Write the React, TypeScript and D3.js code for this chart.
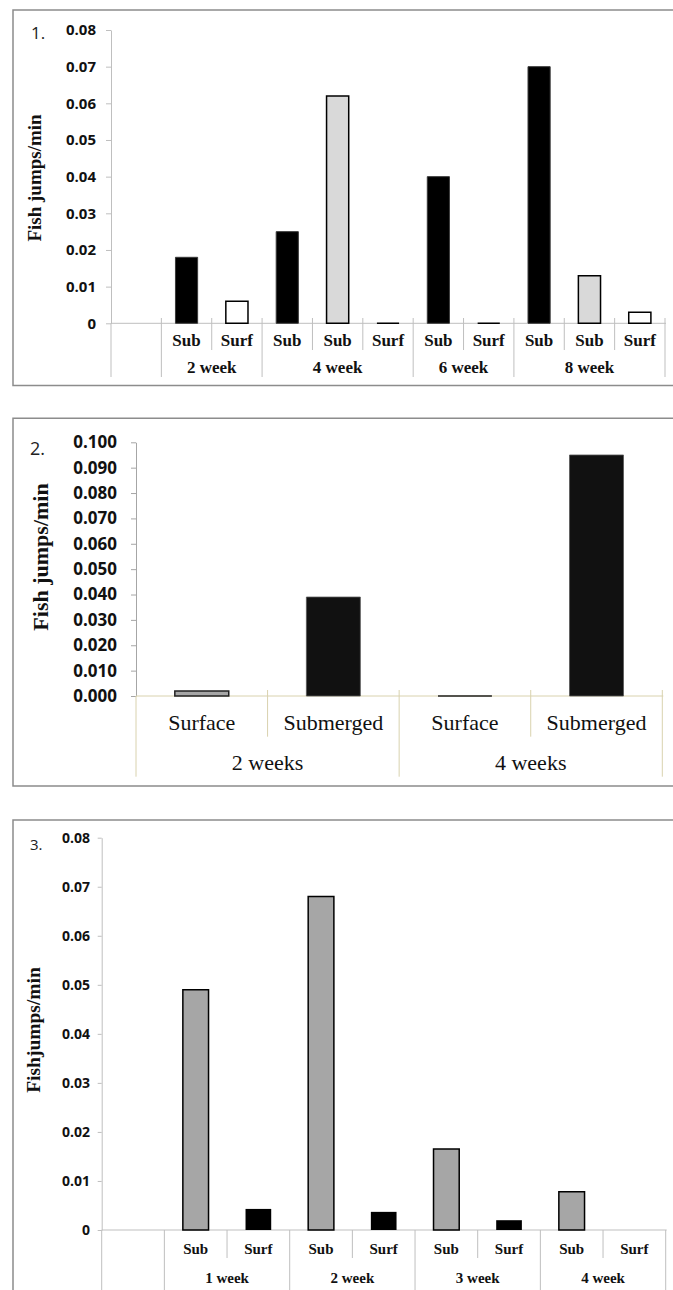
import React, { useRef, useEffect } from "react";
import * as d3 from "d3";

// ---- panel 1 data
const p1Labels = ["", "Sub", "Surf", "Sub", "Sub", "Surf", "Sub", "Surf", "Sub", "Sub", "Surf"];
const p1Weeks = ["", "2 week", "2 week", "4 week", "4 week", "4 week", "6 week", "6 week", "8 week", "8 week", "8 week"];
const p1Series = ["", "sub", "surf", "sub", "sub2", "surf", "sub", "surf", "sub", "sub2", "surf"];
const p1Values = [null, 0.018, 0.006, 0.025, 0.062, 0, 0.04, 0, 0.07, 0.013, 0.003];
const p1Ticks = [0, 0.01, 0.02, 0.03, 0.04, 0.05, 0.06, 0.07, 0.08];

// ---- panel 2 data
const p2Labels = ["Surface", "Submerged", "Surface", "Submerged"];
const p2Weeks = ["2 weeks", "2 weeks", "4 weeks", "4 weeks"];
const p2Series = ["surface", "submerged", "surface", "submerged"];
const p2Values = [0.002, 0.039, 0, 0.095];
const p2Ticks = [0, 0.01, 0.02, 0.03, 0.04, 0.05, 0.06, 0.07, 0.08, 0.09, 0.1];

// ---- panel 3 data
const p3Labels = ["", "Sub", "Surf", "Sub", "Surf", "Sub", "Surf", "Sub", "Surf"];
const p3Weeks = ["", "1 week", "1 week", "2 week", "2 week", "3 week", "3 week", "4 week", "4 week"];
const p3Series = ["", "sub", "surf", "sub", "surf", "sub", "surf", "sub", "surf"];
const p3Values = [null, 0.049, 0.0043, 0.068, 0.0037, 0.0165, 0.002, 0.0078, 0];
const p3Ticks = [0, 0.01, 0.02, 0.03, 0.04, 0.05, 0.06, 0.07, 0.08];

const SANS = "'Open Sans', sans-serif";
const SERIF = "'Liberation Serif', 'Times New Roman', serif";

const fmt2 = (d) => (d === 0 ? "0" : d3.format(".2f")(d));
const fmt3 = d3.format(".3f");

const panels = [
  {
    num: "1.", numX: 31, numY: 39, numSize: 17,
    title: "Fish jumps/min", titleX: 41, titleY: 178, titleSize: 19,
    box: [13, 10, 385.5],
    left: 111, right: 665, top: 30, bottom: 323.3,
    ticks: p1Ticks, fmt: fmt2, tickSize: 5, tickPad: 10, tickFont: 15,
    labels: p1Labels, weeks: p1Weeks, series: p1Series, values: p1Values,
    sepTop: 318, shortBottom: 350, longBottom: 377,
    labelY: 345.5, groupY: 373, catFont: 17, catWeight: "bold",
    axisColor: "#bfbfbf", catColor: "#bfbfbf",
    barFrac: 0.44,
    style: {
      sub: { fill: "#000", stroke: "#3a3a3a", sw: 1 },
      sub2: { fill: "#d9d9d9", stroke: "#000", sw: 1.5 },
      surf: { fill: "#fff", stroke: "#000", sw: 1.5 },
    },
  },
  {
    num: "2.", numX: 30, numY: 455, numSize: 18,
    title: "Fish jumps/min", titleX: 48, titleY: 557, titleSize: 22,
    box: [13, 418.3, 786],
    left: 136, right: 662.3, top: 442.3, bottom: 696,
    ticks: p2Ticks, fmt: fmt3, tickSize: 5, tickPad: 14, tickFont: 17,
    labels: p2Labels, weeks: p2Weeks, series: p2Series, values: p2Values,
    sepTop: 690, shortBottom: 736.7, longBottom: 776.7,
    labelY: 730, groupY: 770, catFont: 22, catWeight: "normal",
    axisColor: "#a6a6a6", catColor: "#d9d2ae",
    barFrac: 0.41,
    style: {
      surface: { fill: "#a6a6a6", stroke: "#222", sw: 1.5 },
      submerged: { fill: "#111", stroke: "#555", sw: 0.8 },
    },
  },
  {
    num: "3.", numX: 30, numY: 850, numSize: 15,
    title: "Fishjumps/min", titleX: 40, titleY: 1030, titleSize: 19.5,
    box: [13, 820, 1320],
    left: 101.7, right: 665.7, top: 837.7, bottom: 1230,
    ticks: p3Ticks, fmt: fmt2, tickSize: 4, tickPad: 7.7, tickFont: 14,
    labels: p3Labels, weeks: p3Weeks, series: p3Series, values: p3Values,
    sepTop: 1230, shortBottom: 1258, longBottom: 1292,
    labelY: 1254, groupY: 1282.5, catFont: 15, catWeight: "bold",
    axisColor: "#bfbfbf", catColor: "#bfbfbf",
    barFrac: 0.41,
    style: {
      sub: { fill: "#a6a6a6", stroke: "#000", sw: 1.5 },
      surf: { fill: "#000", stroke: "none", sw: 0 },
    },
  },
];

const drawPanel = (svg, p) => {
  const g = svg.append("g");
  const n = p.labels.length;

  // frame
  g.append("path")
    .attr("d", `M${p.box[0] + 700},${p.box[1]}H${p.box[0]}V${p.box[2]}H${p.box[0] + 700}`)
    .attr("fill", "none")
    .attr("stroke", "#8c8c8c")
    .attr("stroke-width", 1.5);

  const x = d3.scaleBand().domain(d3.range(n)).range([p.left, p.right]).padding(0);
  const y = d3.scaleLinear().domain([0, d3.max(p.ticks)]).range([p.bottom, p.top]);
  const bw = x.bandwidth();
  const edge = (i) => (i < n ? x(i) : p.right);

  // y axis
  const yAxis = g.append("g")
    .attr("transform", `translate(${p.left},0)`)
    .call(d3.axisLeft(y).tickValues(p.ticks).tickFormat(p.fmt).tickSize(p.tickSize).tickSizeOuter(0).tickPadding(p.tickPad));
  yAxis.select(".domain").attr("stroke", p.axisColor);
  yAxis.selectAll(".tick line").attr("stroke", p.axisColor);
  yAxis.selectAll(".tick text")
    .attr("fill", "#111")
    .style("font-family", SANS)
    .style("font-weight", "bold")
    .style("font-size", `${p.tickFont}px`);

  // category axis line + separators
  g.append("line")
    .attr("x1", p.left).attr("x2", p.right + 1)
    .attr("y1", y(0)).attr("y2", y(0))
    .attr("stroke", p.catColor);

  d3.range(n + 1).forEach((i) => {
    const long = i === 0 || i === n || p.weeks[i] !== p.weeks[i - 1];
    const top = i === 0 ? y(0) : p.sepTop;
    g.append("line")
      .attr("x1", edge(i)).attr("x2", edge(i))
      .attr("y1", top).attr("y2", long ? p.longBottom : p.shortBottom)
      .attr("stroke", p.catColor);
  });

  // bars (as paths so zero values still show their outline)
  p.values.forEach((v, i) => {
    if (v === null) return;
    const s = p.style[p.series[i]];
    const bx = x(i) + (bw * (1 - p.barFrac)) / 2;
    const w = bw * p.barFrac;
    const h = y(0) - y(v);
    g.append("path")
      .attr("d", `M${bx},${y(0)}v${-h}h${w}v${h}Z`)
      .attr("fill", s.fill)
      .attr("stroke", s.stroke)
      .attr("stroke-width", s.sw);
  });

  // category labels
  p.labels.forEach((l, i) => {
    if (!l) return;
    g.append("text")
      .attr("x", x(i) + bw / 2)
      .attr("y", p.labelY)
      .attr("text-anchor", "middle")
      .style("font-family", SERIF)
      .style("font-weight", p.catWeight)
      .style("font-size", `${p.catFont}px`)
      .attr("fill", "#111")
      .text(l);
  });

  // group labels
  const groups = Array.from(new Set(p.weeks.filter((w) => w)));
  groups.forEach((w) => {
    const idx = p.weeks.map((d, i) => (d === w ? i : -1)).filter((i) => i >= 0);
    const cx = (x(idx[0]) + x(idx[idx.length - 1]) + bw) / 2;
    g.append("text")
      .attr("x", cx)
      .attr("y", p.groupY)
      .attr("text-anchor", "middle")
      .style("font-family", SERIF)
      .style("font-weight", p.catWeight)
      .style("font-size", `${p.catFont}px`)
      .attr("fill", "#111")
      .text(w);
  });

  // title + panel number
  g.append("text")
    .attr("transform", `translate(${p.titleX},${p.titleY}) rotate(-90)`)
    .attr("text-anchor", "middle")
    .style("font-family", SERIF)
    .style("font-weight", "bold")
    .style("font-size", `${p.titleSize}px`)
    .attr("fill", "#111")
    .text(p.title);

  g.append("text")
    .attr("x", p.numX)
    .attr("y", p.numY)
    .style("font-family", SANS)
    .style("font-size", `${p.numSize}px`)
    .attr("fill", "#222")
    .text(p.num);
};

const App = () => {
  const svgRef = useRef(null);

  useEffect(() => {
    const svg = d3.select(svgRef.current);
    //clean the svg element
    svg.selectAll("*").remove();
    svg.append("rect").attr("width", 673).attr("height", 1290).attr("fill", "#fff");
    panels.forEach((p) => drawPanel(svg, p));
  }, []);

  return (
    <svg
      ref={svgRef}
      width={673}
      height={1290}
      style={{ position: "absolute", left: 0, top: 0, display: "block" }}
    />
  );
};

export default App;
